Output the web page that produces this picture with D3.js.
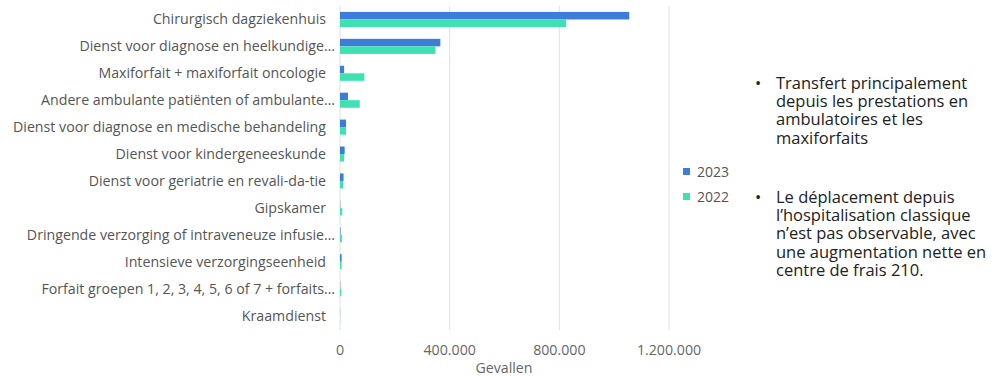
<!DOCTYPE html>
<html>
<head>
<meta charset="utf-8">
<script src="https://cdn.jsdelivr.net/npm/d3@7"></script>
<style>
  body { margin: 0; background: #fff; }
  svg { font-family: "Open Sans", sans-serif; }
</style>
</head>
<body>
<svg width="993" height="377"></svg>
<script>
// categories (truncated ones keep their ellipsis like in the original)
const categories = [
  "Chirurgisch dagziekenhuis",
  "Dienst voor diagnose en heelkundige…",
  "Maxiforfait + maxiforfait oncologie",
  "Andere ambulante patiënten of ambulante…",
  "Dienst voor diagnose en medische behandeling",
  "Dienst voor kindergeneeskunde",
  "Dienst voor geriatrie en revali-da-tie",
  "Gipskamer",
  "Dringende verzorging of intraveneuze infusie…",
  "Intensieve verzorgingseenheid",
  "Forfait groepen 1, 2, 3, 4, 5, 6 of 7 + forfaits…",
  "Kraamdienst"
];
const values2023 = [1055000, 366000, 15000, 29000, 22000, 17000, 13000, 1000, 2000, 6000, 1000, 500];
const values2022 = [825000, 348000, 89000, 72000, 22000, 15000, 12000, 8000, 7000, 6000, 5000, 500];
const series = ["2023", "2022"];
const xTicks = [0, 400000, 800000, 1200000];

const notes = [
  ["Transfert principalement", "depuis les prestations en", "ambulatoires et les", "maxiforfaits"],
  ["Le déplacement depuis", "l\u2019hospitalisation classique", "n\u2019est pas observable, avec", "une augmentation nette en", "centre de frais 210."]
];

const colors = { "2023": "#3b7dd8", "2022": "#3ee2b0" };

const svg = d3.select("svg");
const rows = categories.map((c, i) => ({ cat: c, "2023": values2023[i], "2022": values2022[i] }));

const x = d3.scaleLinear().domain([0, 1200000]).range([340, 669]);
const y = d3.scaleBand().domain(categories).range([6, 329]).paddingInner(0.44).paddingOuter(0.22);
const ySub = d3.scaleBand().domain(series).range([0, y.bandwidth()]);

const fmt = d3.formatLocale({ decimal: ",", thousands: ".", grouping: [3], currency: ["€", ""] }).format(",d");

// gridlines
svg.append("g")
  .selectAll("line")
  .data(xTicks)
  .join("line")
  .attr("x1", d => x(d)).attr("x2", d => x(d))
  .attr("y1", 6).attr("y2", 330)
  .attr("stroke", "#e0e0e0")
  .attr("stroke-width", 1);

// bars
const grp = svg.append("g")
  .selectAll("g")
  .data(rows)
  .join("g")
  .attr("transform", d => `translate(0,${y(d.cat)})`);

grp.selectAll("rect")
  .data(d => series.map(s => ({ s, v: d[s] })))
  .join("rect")
  .attr("x", x(0))
  .attr("y", d => ySub(d.s))
  .attr("width", d => Math.max(x(d.v) - x(0), 0))
  .attr("height", ySub.bandwidth())
  .attr("fill", d => colors[d.s]);

// category labels
svg.append("g")
  .selectAll("text")
  .data(categories)
  .join("text")
  .attr("x", d => d.endsWith("…") ? 335 : 326)
  .attr("y", d => y(d) + y.bandwidth() / 2)
  .attr("dy", "0.35em")
  .attr("text-anchor", "end")
  .attr("font-size", 14.2)
  .attr("fill", "#555")
  .text(d => d);

// x tick labels
svg.append("g")
  .selectAll("text")
  .data(xTicks)
  .join("text")
  .attr("x", d => x(d))
  .attr("y", 350)
  .attr("dy", "0.35em")
  .attr("text-anchor", "middle")
  .attr("font-size", 14.2)
  .attr("fill", "#666")
  .text(d => fmt(d));

svg.append("text")
  .attr("x", 504).attr("y", 368)
  .attr("dy", "0.35em")
  .attr("text-anchor", "middle")
  .attr("font-size", 14.2)
  .attr("fill", "#666")
  .text("Gevallen");

// legend
const leg = svg.append("g")
  .selectAll("g")
  .data(series)
  .join("g")
  .attr("transform", (d, i) => `translate(683,${172 + i * 25})`);
leg.append("rect").attr("x", 0).attr("y", -4).attr("width", 7).attr("height", 7).attr("fill", d => colors[d]);
leg.append("text").attr("x", 14).attr("dy", "0.35em").attr("font-size", 14).attr("fill", "#555").text(d => d);

// notes
const tops = [83, 197];
notes.forEach((lines, k) => {
  const g = svg.append("g");
  g.append("text").attr("x", 755).attr("y", tops[k]).attr("dy", "0.35em")
    .attr("font-size", 16.5).attr("fill", "#222").text("•");
  g.selectAll("text.l")
    .data(lines)
    .join("text")
    .attr("class", "l")
    .attr("x", 776)
    .attr("y", (d, i) => tops[k] + i * 18.3)
    .attr("dy", "0.35em")
    .attr("font-size", 16.5)
    .attr("fill", "#222")
    .text(d => d);
});
</script>
</body>
</html>
